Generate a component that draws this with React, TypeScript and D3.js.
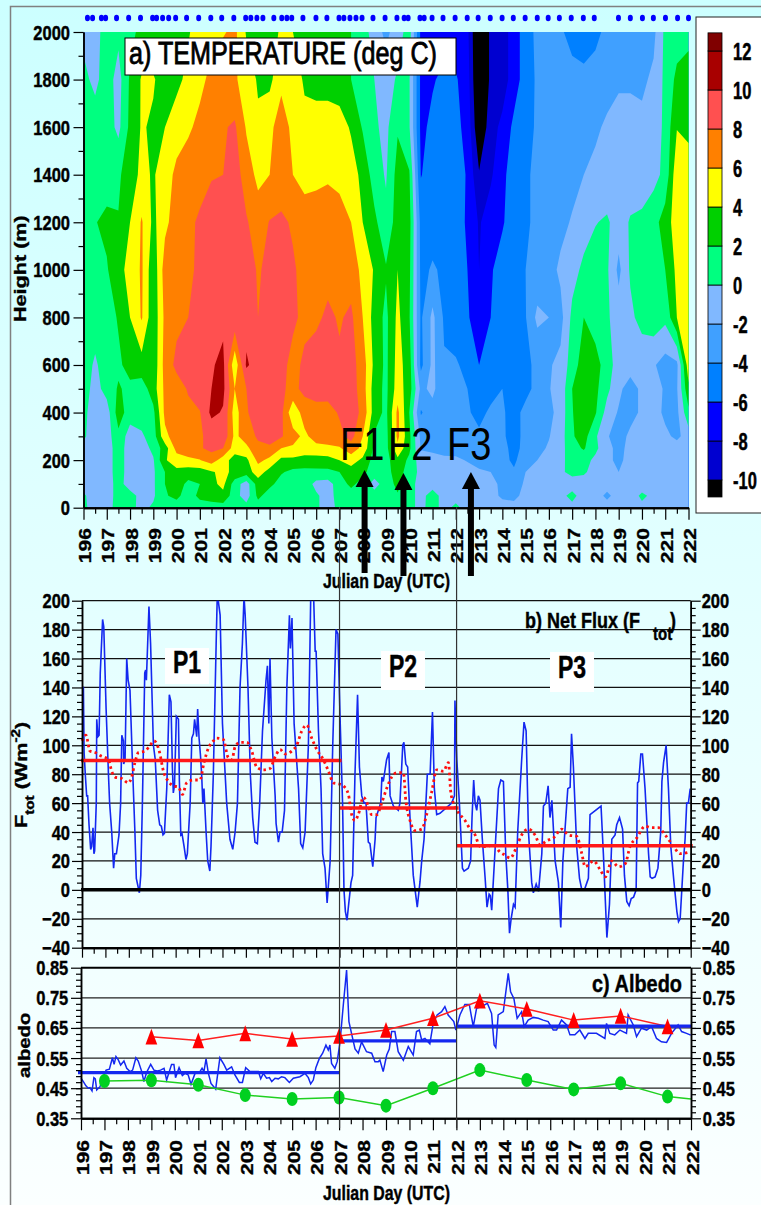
import React, { useEffect, useRef } from "react";
import * as d3 from "d3";

const FONT = "'Liberation Sans', Arial, sans-serif";

// a) temperature, one row per height, one value per half day from 196 to 222
const heights = [0, 50, 100, 150, 200, 250, 300, 400, 500, 600, 800, 1000, 1200, 1400, 1600, 1800, 2000];
const temp0 = [0.5,-1,-0.5,0.5,0.5,-0.5,0.3,1,1,1,1,1,1,0.8,0.8,1,1,0.8,0.8,0.8,0.3,-0.8,0.5,0.8,0.8,0.5,0.8,1,0.5,-0.5,0.8,-0.7,0.5,-0.8,-1,-1,-1.5,-1.5,-1,-1,-1,-0.5,-0.5,-0.5,-0.8,-1,-1,-0.5,-0.5,-0.8,-1,-1,-1];
const temp50 = [0.3,-1,-1,0.8,0.8,-0.7,-0.3,1.8,2.5,1,2.5,3,3.5,0.8,-1,2.5,1,0.8,0.8,0.8,0.3,-0.8,0.8,1,0.8,0.8,1,1.8,0.6,-0.6,0.8,-0.7,-0.8,-1,-1,-1.6,-2.2,-2.4,-1.5,-1,-1,-0.5,0.5,-0.8,-1,-2.5,-1,-1,0.4,-0.5,-1,-1,-1];
const temp100 = [-0.8,-1,-1,0.8,-1,-1,-0.3,2,3,1.5,2,3.5,4.5,1,-1,3,2.5,1.2,1.2,1.2,-0.6,-0.8,1,2.5,1.2,-0.8,1,2.5,0.8,-0.8,-0.8,-1,-1,-1.2,-1.3,-1.6,-2.3,-2.6,-1.8,-1,-1,-1,-0.8,-0.9,-1,-1,-1,-1,-1,-1,-1,-1,-1];
const temp150 = [-0.7,-1,-1,1,-1,-1,-0.3,2,3.5,3,3,3.8,4.5,3.5,3,5,3.2,2.2,1.5,1.4,1.5,1.5,2,3,2.5,1,1.2,3,1,-0.5,-1,-1,-1,-1.5,-1.8,-2,-3,-3.8,-2,-1.5,-1,-0.3,0.5,0.3,-0.8,-1.5,-2,-1,-0.6,-0.6,-0.6,-0.6,-0.6];
const temp200 = [-0.6,-1,-1,1,-1,-1,-0.2,3.8,5,5.5,5.9,7,5,3,3.5,6.5,5.5,3.5,3.5,3.3,3.2,3.3,4,5,3.5,1.2,1.2,3.5,1.5,-1,-1.5,-1.7,-1.7,-2.1,-2.5,-3,-3.5,-4.3,-3,-2,-1.5,-0.5,0.8,0.8,-0.5,-1.5,-2.5,-1.2,-0.8,-0.8,-0.8,-0.8,-0.8];
const temp250 = [-0.5,-1,-1,1,-1,-1,0.5,3,6.7,7.4,7.8,8.5,8,5,5.5,7.5,7.6,6,5.7,5,5.3,5.5,5.8,7,5.5,1.5,1.3,5.5,2.5,-2.2,-2.3,-2.5,-2.6,-2.8,-3,-3,-3.5,-4.5,-3.5,-2.5,-1.8,-0.8,1.3,2.2,0.5,-1.5,-2.5,-1.5,-1,-1,-1,-1,-0.5];
const temp300 = [0.3,-1,-1,1.5,-1,-0.3,1,5.5,7,7.5,7.8,8.5,9.5,5.5,7,8.3,9,8.2,6.8,5.5,7,7.2,7.5,8.7,6,1.8,1.2,6.5,2.5,-2.5,-2.5,-3,-3.2,-3.5,-3.7,-3.5,-3.8,-4.5,-3.6,-2.8,-2.1,-1,1.8,2.8,0.3,-1.8,-3,-1.5,-1.5,-1.2,-1.5,-2.5,-1];
const temp400 = [0.5,-1,-1,3,1,1,1.5,6.5,7,7.5,7.9,10.5,9.8,5,7.9,8.5,9,8.5,4.5,7,7.5,7.3,8.2,9,7.5,3,1.5,6.5,2,-4.2,-2.8,-3.9,-3.5,-3.8,-4.5,-3.7,-3.8,-4.6,-3.5,-3,-2.5,-1.3,1.9,3.1,2.2,-0.8,-2.2,-2.8,-1.6,-1,-2.5,-2.5,1.5];
const temp500 = [1,-0.8,0.8,2.2,1.5,1,3,6.5,7,8.2,9,10,10.5,6,8,9,9,8.3,7.5,8.5,8.6,8.8,8.2,9,7,3,1.5,5,3,-2.5,-1.5,-3.6,-3.8,-4,-4.8,-4.6,-4,-4.2,-4.5,-3.5,-2.1,-1.3,2,3.2,2.5,0.5,-1.5,-3,-1.5,-1,-2.3,-2.2,3.6];
const temp600 = [1,-0.3,1,1.6,2.8,3.2,2.5,6.8,8.5,9,9.5,9.8,10.5,4.5,10.3,9,9,8.5,7.5,8.3,9,8.5,8.3,8.8,7,3.5,1.5,4.8,3,-4.5,-1.5,-3.8,-3.8,-4.5,-6,-5,-4.5,-4,-4.2,-3.8,-2.2,-1.5,1,3,2.8,1,-1,-1,-1.5,-1.8,-2.8,-2.5,5.2];
const temp800 = [1,1,1,2.2,4,6.2,2.5,6.5,7.5,8,8.5,9.3,9.5,9.5,9.2,8,8.4,8.8,8.3,7.6,7.6,8.4,7.8,8.4,6,3.2,1.5,4.5,2.2,-4.3,-1.5,-4.3,-5,-5.8,-7,-6,-5,-4.4,-4.1,-1.5,-2,-2.7,0.5,2,1,0.3,-1,-0.5,0.8,1.2,0.5,4,6];
const temp1000 = [1,1,1.8,3.5,4.5,6.3,2.5,7,7.5,7.8,8.2,9.3,9.5,9.3,9,7.8,8.5,9,8.2,7.5,7.2,7.3,8,7,5.5,3.8,2.2,4,2.5,-4.5,-3.8,-4.3,-5,-6,-8,-6.2,-5.2,-4.5,-4,-3.5,-2.8,-1.6,-0.8,0.5,1,0.3,-2.5,0.3,1,1.5,2,4.5,5];
const temp1200 = [1,1.9,2.5,2.1,4,6.2,3.5,5.5,7,7.7,8.2,9.3,9.5,9.3,8.2,7,8.1,8.3,7.8,7,6.8,6.8,6.6,6,4,2.5,0.5,3,2.8,-4.7,-4.8,-4.6,-5,-6.3,-8.2,-7,-6.2,-5,-4.2,-3.7,-3.2,-2.6,-1.8,-1,-0.1,0.3,-1,0.2,0.4,1.2,3,5,5.2];
const temp1400 = [0.8,1,1,1.7,3,4.5,3.8,5,6.5,7,7.5,7.8,8,9,7,5.5,6,7,6,5.3,5.6,5.8,5.6,4.8,3.5,1,-0.2,2.8,2.2,-6.1,-5,-4.7,-5,-6.2,-9.8,-8.3,-6.5,-5,-4.2,-3.7,-3.3,-3.1,-2.7,-2,-1.7,-1.5,-1.3,-1.2,-1,-0.6,0.5,5.5,5];
const temp1600 = [0.8,1,1,-0.5,2.5,4.2,3.7,4,5,5.7,6.5,7.3,7.8,8.3,5.8,4.3,5.5,7,5.5,5,5,5,4.8,3.8,1.8,0.3,-0.5,1.8,0.2,-6.5,-5.5,-5.2,-5.5,-6.6,-12,-8.8,-7.5,-5.5,-4.5,-3.8,-3.3,-3.2,-3.1,-2.8,-2.2,-1.8,-1.5,-1.5,-1.5,-1.2,0.5,3.9,3.5];
const temp1800 = [0.5,-0.5,1,-0.8,2.3,4.2,4.2,3,3.5,4.5,5.5,6.5,7.5,6.3,5,3.8,3.5,5.5,6,3.5,3.2,3.2,3,2,0.7,0,-1,0.3,0.2,-6.5,-6.2,-5.5,-5.8,-7,-13,-9.5,-9,-7,-5,-3.7,-3.5,-3.5,-3.5,-3.5,-3.2,-2.5,-2.2,-2.2,-2.4,-1.6,0.5,2.5,3.5];
const temp2000 = [-0.5,-0.8,1,0.5,1.5,2.5,2.5,2.2,3,3.8,5,5.5,5.8,6.5,3.8,2.2,2.5,4.5,4,3,3,3,3,2,1,-1,-2.5,-1,1,-6.5,-7,-7,-7,-7.5,-13,-9.5,-9,-7,-5,-3.5,-3.5,-3.8,-4.5,-5,-4.5,-3.5,-3,-3,-3,-2.5,0.5,1,1];
const tempRows = [temp0, temp50, temp100, temp150, temp200, temp250, temp300, temp400, temp500, temp600, temp800, temp1000, temp1200, temp1400, temp1600, temp1800, temp2000];

const tempLevels = [-10, -8, -6, -4, -2, 0, 2, 4, 6, 8, 10, 12];
const tempColors = ["#000000", "#0000d0", "#0000ff", "#0080ff", "#40a0ff", "#80b8ff", "#00ff80", "#00d000", "#ffff00", "#ff8000", "#ff5050", "#a80000", "#800000"];

// balloon launch times along the top of a)
const launchDays = [196.17,196.39,196.77,196.95,197.42,197.94,198.45,198.97,199.14,199.40,199.66,199.96,200.43,200.95,201.47,201.94,202.46,202.97,203.19,203.45,203.71,204.18,204.52,204.74,204.95,205.43,205.99,206.46,206.98,207.19,207.45,207.71,207.97,208.44,208.96,209.47,209.78,209.95,210.46,210.64,210.98,211.45,211.97,212.49,212.96,213.48,213.99,214.47,214.98,215.5,215.97,216.45,216.96,217.48,217.95,218.99,219.5,220.02,220.49,221.01,221.53,222];

// b) net flux, days counted from 196
const fluxDays = [0,.06,.09,.14,.2,.24,.3,.37,.41,.47,.51,.54,.61,.63,.68,.73,.78,.88,.93,1.03,1.13,1.18,1.27,1.35,1.4,1.47,1.58,1.65,1.7,1.77,1.78,1.84,1.91,1.97,2.05,2.17,2.26,2.32,2.45,2.51,2.58,2.68,2.72,2.75,2.86,2.93,3.05,3.13,3.23,3.32,3.39,3.46,3.52,3.62,3.73,3.8,3.86,3.9,3.95,4.03,4.12,4.16,4.22,4.27,4.36,4.44,4.5,4.62,4.69,4.76,4.81,4.9,4.94,5,5.06,5.11,5.16,5.21,5.3,5.37,5.46,5.51,5.61,5.73,5.78,5.9,6,6.18,6.32,6.44,6.54,6.64,6.75,6.85,6.92,6.97,7.09,7.19,7.29,7.39,7.49,7.59,7.71,7.86,7.92,7.98,8.03,8.11,8.25,8.29,8.39,8.46,8.55,8.65,8.75,8.86,8.9,8.97,9.06,9.25,9.34,9.43,9.53,9.67,9.77,9.89,9.96,10,10.1,10.21,10.28,10.38,10.47,10.6,10.71,10.85,10.93,11.03,11.13,11.19,11.25,11.32,11.39,11.49,11.56,11.66,11.77,11.85,11.95,12.05,12.13,12.23,12.3,12.42,12.52,12.56,12.66,12.76,12.81,12.87,13.01,13.11,13.16,13.3,13.51,13.58,13.7,13.75,13.83,13.91,14.01,14.15,14.32,14.44,14.51,14.61,14.72,14.75,14.87,14.97,15.05,15.15,15.29,15.58,15.79,15.91,15.93,16.01,16.12,16.25,16.32,16.5,16.6,16.66,16.73,16.79,16.86,16.93,17,17.1,17.22,17.3,17.39,17.44,17.5,17.6,17.79,17.89,18,18.1,18.19,18.26,18.33,18.43,18.5,18.61,18.78,18.88,18.97,19.07,19.21,19.28,19.4,19.5,19.64,19.71,19.81,19.91,19.99,20.07,20.21,20.35,20.45,20.54,20.75,20.85,20.91,20.99,21.13,21.25,21.35,21.46,21.63,21.7,22.17,22.27,22.42,22.53,22.63,22.77,22.84,22.96,23.09,23.17,23.27,23.37,23.46,23.56,23.67,23.73,23.78,23.87,23.94,24.05,24.2,24.27,24.35,24.48,24.6,24.72,24.77,24.84,24.95,25.05,25.15,25.27,25.41,25.48,25.55,25.69,25.76,25.83,25.9,25.98];
const fluxValues = [140,140,95,80,65,65,45,28,30,43,25,27,60,118,106,107,150,187,182,125,80,60,40,15,25,25,38,60,107,103,87,90,160,145,138,80,40,8,-2,10,60,150,152,145,196,170,100,90,55,45,44,38,39,70,135,130,85,67,72,120,118,75,38,39,30,21,25,60,105,108,118,106,125,105,93,80,60,70,40,20,13,30,80,170,205,190,115,60,35,28,40,60,140,170,203,190,140,80,50,33,32,60,110,145,155,115,160,105,65,46,33,40,40,55,140,190,167,188,115,70,32,29,40,100,203,205,165,165,110,70,25,15,-9,20,100,180,177,115,60,0,-15,-21,-10,5,10,80,135,85,65,60,60,33,32,16,35,50,55,60,78,75,90,95,65,58,55,60,100,102,87,85,50,10,-12,6,20,35,70,80,80,123,70,52,53,57,60,65,131,90,60,15,13,15,20,50,76,60,55,65,62,35,8,-12,-3,-4,-14,15,70,76,75,25,0,-30,-20,-10,-12,40,90,116,110,40,5,-2,4,-1,25,58,60,72,50,62,20,5,-26,20,70,71,108,85,30,8,0,0,8,52,58,25,-33,-10,35,38,45,50,42,10,-8,-11,-6,-5,0,74,75,94,94,70,25,9,8,9,15,40,75,88,100,70,30,8,-15,-22,-20,20,35,60,60,70];
const smoothDays = [0,.17,.34,.56,.77,1.13,1.27,1.41,1.7,1.98,2.12,2.26,2.41,2.69,2.91,3.08,3.3,3.48,3.69,3.9,4.12,4.29,4.47,4.76,5.04,5.21,5.4,5.61,5.75,6.04,6.23,6.4,6.54,6.75,7.04,7.25,7.46,7.75,8.03,8.25,8.46,8.68,8.96,9.17,9.39,9.6,9.81,10.03,10.31,10.53,10.74,11.03,11.16,11.38,11.52,11.66,11.8,12.02,12.23,12.37,12.59,12.8,13.01,13.23,13.44,13.73,13.83,14.01,14.23,14.51,14.72,14.94,15.15,15.44,15.65,15.75,15.86,16.01,16.36,16.58,16.79,17,17.29,17.57,17.86,18.07,18.29,18.57,18.78,19.07,19.35,19.57,19.85,20.14,20.49,20.78,21.13,21.35,21.49,21.85,22.13,22.35,22.63,22.91,23.2,23.41,23.7,24.05,24.34,24.62,24.91,25.27,25.55,25.91];
const smoothValues = [103,107,96,95,93,90,82,78,77,74,78,88,95,96,100,103,96,82,75,72,71,66,74,76,76,88,98,103,105,104,92,90,99,102,102,96,85,83,84,92,97,94,96,100,110,114,105,97,90,82,74,73,72,66,52,48,52,64,58,52,52,60,70,78,81,81,62,48,41,42,52,68,83,82,88,68,60,55,48,42,38,30,30,31,26,24,22,30,38,42,38,31,34,36,42,38,37,25,16,20,14,9,20,16,18,30,36,44,43,43,38,30,25,26];
const periodBreaks = [196, 207, 212, 222];
const fluxMeans = [89.5, 56.7, 30.5];
const fluxTickValues = d3.range(-40, 201, 20);

// c) albedo
const albedoDays = [0,.10,.21,.31,.38,.47,.55,.61,.67,.81,.92,1.07,1.21,1.34,1.41,1.49,1.59,1.69,1.83,1.95,2.09,2.2,2.34,2.44,2.59,2.68,2.8,2.97,3.11,3.25,3.39,3.54,3.65,3.86,3.96,4.03,4.18,4.32,4.43,4.57,4.69,4.86,5.07,5.16,5.24,5.33,5.43,5.54,5.74,5.92,6.09,6.21,6.42,6.56,6.75,6.88,7.02,7.2,7.56,7.66,7.77,7.91,8.03,8.13,8.27,8.41,8.55,8.69,8.88,9.05,9.33,9.55,9.69,9.79,9.9,10.01,10.16,10.3,10.44,10.54,10.61,10.68,10.82,10.92,11.04,11.18,11.32,11.42,11.53,11.68,11.82,11.96,12.17,12.39,12.53,12.67,12.74,12.88,13.03,13.14,13.24,13.38,13.52,13.74,13.95,14.16,14.3,14.42,14.52,14.66,14.87,15.01,15.18,15.37,15.51,15.65,15.89,15.98,16.15,16.36,16.55,16.72,16.86,17.07,17.32,17.5,17.61,17.68,17.78,18,18.21,18.31,18.45,18.59,18.78,18.89,19.06,19.28,19.49,19.7,19.91,20.13,20.27,20.48,20.7,20.84,21.05,21.26,21.48,21.62,21.97,22.33,22.4,22.54,22.75,22.97,23.25,23.32,23.54,23.68,23.89,24.11,24.32,24.53,24.74,24.96,25.17,25.45,25.6,25.81,25.99];
const albedoValues = [.483,.472,.458,.450,.452,.441,.485,.481,.444,.455,.483,.510,.513,.551,.529,.555,.544,.527,.540,.516,.505,.510,.551,.540,.505,.472,.503,.529,.510,.507,.510,.516,.477,.529,.529,.485,.518,.492,.499,.494,.463,.499,.505,.516,.505,.547,.499,.466,.447,.551,.529,.510,.521,.494,.469,.469,.518,.505,.505,.481,.499,.483,.485,.472,.483,.481,.488,.485,.469,.483,.488,.499,.485,.464,.477,.518,.549,.566,.593,.577,.593,.532,.516,.538,.604,.726,.842,.671,.632,.580,.566,.604,.571,.566,.538,.538,.543,.505,.560,.580,.638,.638,.571,.543,.588,.560,.638,.643,.610,.615,.597,.665,.693,.704,.721,.693,.671,.643,.693,.728,.728,.654,.715,.721,.732,.698,.593,.585,.693,.704,.831,.770,.748,.682,.704,.654,.676,.685,.682,.676,.671,.643,.643,.676,.660,.627,.627,.643,.615,.632,.632,.615,.665,.632,.627,.643,.632,.693,.660,.621,.649,.643,.654,.615,.604,.602,.632,.660,.638,.632,.626];
const albedoMeans = [0.5015, 0.607, 0.656];
const triangleDays = [199, 201, 203, 205, 207, 209, 211, 213, 215, 217, 219, 221, 222];
const triangleValues = [.621, .608, .632, .613, .623, .643, .682, .740, .713, .676, .690, .655, .655];
const circleDays = [197, 199, 201, 203, 205, 207, 209, 211, 213, 215, 217, 219, 221, 222];
const circleValues = [.474, .476, .461, .427, .414, .419, .392, .450, .510, .477, .446, .466, .422, .414];
const albedoTickValues = [0.35, 0.45, 0.55, 0.65, 0.75, 0.85];

const dayTicks = d3.range(196, 223);
const halfDayTicks = d3.range(196.5, 222, 1);

const stretch = 1.2;
const stretchRot = 1.27;
const boldStroke = 0.35;

function App() {
  const ref = useRef<SVGSVGElement>(null);

  useEffect(() => {
    const svg = d3.select(ref.current);
    svg.selectAll("*").remove();

    const defs = svg.append("defs");
    const grad = defs.append("linearGradient").attr("id", "bg").attr("x1", 0).attr("y1", 0).attr("x2", 0).attr("y2", 1);
    grad.append("stop").attr("offset", "0%").attr("stop-color", "#ccffff");
    grad.append("stop").attr("offset", "100%").attr("stop-color", "#fbffff");
    svg.append("rect").attr("width", 761).attr("height", 1205).attr("fill", "url(#bg)");
    svg.append("path").attr("d", "M10.5,1205V6.5H761").attr("fill", "none").attr("stroke", "#808080").attr("stroke-width", 1.5);

    // text is stretched vertically in the source picture
    const label = (parent: any, str: string, x: number, y: number, o: any = {}) => {
      const sy = o.sy ?? stretch;
      const t = parent
        .append("text")
        .attr("transform", o.rot ? `translate(${x},${y}) scale(1,${stretchRot}) rotate(-90)` : `translate(${x},${y}) scale(1,${sy})`)
        .attr("font-family", FONT)
        .attr("font-size", o.size ?? 16.5)
        .attr("font-weight", o.weight ?? "bold")
        .attr("text-anchor", o.anchor ?? "start")
        .attr("fill", "black")
        .attr("stroke", o.weight === "normal" ? "none" : "black")
        .attr("stroke-width", boldStroke)
        .text(str);
      if (o.len) t.attr("textLength", o.len).attr("lengthAdjust", "spacingAndGlyphs");
      return t;
    };

    const styleAxis = (g: any, width = 1.5) => {
      g.attr("font-family", FONT);
      g.selectAll(".domain").attr("stroke", "black").attr("stroke-width", width);
      g.selectAll("line").attr("stroke", "black").attr("stroke-width", 1.2);
    };

    const leftAxis = (y: any, x0: number, major: number[], minor: number[], fmt: any, dx: number, side = -1) => {
      const make = side < 0 ? d3.axisLeft : d3.axisRight;
      const g = svg.append("g").attr("transform", `translate(${x0},0)`);
      g.call(make(y).tickValues(minor).tickSize(5).tickSizeOuter(0).tickFormat(() => ""));
      styleAxis(g);
      const m = svg.append("g").attr("transform", `translate(${x0},0)`);
      m.call(make(y).tickValues(major).tickSize(10).tickSizeOuter(0).tickFormat(fmt));
      styleAxis(m);
      m.selectAll("text")
        .attr("x", null)
        .attr("dy", null)
        .attr("text-anchor", side < 0 ? "end" : "start")
        .attr("transform", `translate(${dx},7) scale(1,${stretch})`)
        .attr("font-size", 16.5)
        .attr("font-weight", "bold")
        .attr("stroke", "black")
        .attr("stroke-width", boldStroke)
        .attr("fill", "black");
    };

    const bottomAxis = (x: any, y0: number, big: number, small: number, textTop: number | null) => {
      const g = svg.append("g").attr("transform", `translate(0,${y0})`);
      g.call(d3.axisBottom(x).tickValues(halfDayTicks).tickSize(small).tickSizeOuter(0).tickFormat(() => ""));
      styleAxis(g, 2);
      const m = svg.append("g").attr("transform", `translate(0,${y0})`);
      m.call(d3.axisBottom(x).tickValues(dayTicks).tickSize(big).tickSizeOuter(0).tickFormat(textTop === null ? () => "" : (d3.format("d") as any)));
      styleAxis(m, 2);
      if (textTop !== null) {
        m.selectAll("text")
          .attr("x", null)
          .attr("y", null)
          .attr("dy", null)
          .attr("text-anchor", "end")
          .attr("transform", `translate(7,${textTop}) scale(1,${stretchRot}) rotate(-90)`)
          .attr("font-size", 16.5)
          .attr("font-weight", "bold")
          .attr("stroke", "black")
          .attr("stroke-width", boldStroke)
          .attr("fill", "black");
      }
    };

    // ---- a) temperature
    const xA = d3.scaleLinear().domain([196, 222]).range([83.5, 688.5]);
    const yA = d3.scaleLinear().domain([0, 2000]).range([507.7, 32]);
    const nx = tempRows[0].length;
    const ny = tempRows.length;
    const colDay = d3.scaleLinear().domain([0, nx - 1]).range([196, 222]);
    const rowHeight = d3.scaleLinear().domain(d3.range(ny)).range(heights).clamp(true);
    const project = d3.geoTransform({
      point(px: number, py: number) {
        const i = Math.max(0, Math.min(nx - 1, px - 0.5));
        (this as any).stream.point(xA(colDay(i)), yA(rowHeight(py - 0.5)));
      },
    });
    const path = d3.geoPath(project);
    const bands = d3.contours().size([nx, ny]).thresholds([-1000, ...tempLevels])(tempRows.flat());
    svg
      .append("g")
      .selectAll("path")
      .data(bands)
      .join("path")
      .attr("d", path as any)
      .attr("fill", (_, i) => tempColors[i]);

    leftAxis(yA, 83.5, d3.range(0, 2001, 200), d3.range(100, 2000, 200), d3.format("d"), -13.5);
    bottomAxis(xA, 507.7, 12, 6, 20.5);
    svg
      .append("g")
      .selectAll("ellipse")
      .data(launchDays)
      .join("ellipse")
      .attr("cx", (d) => xA(d))
      .attr("cy", 18)
      .attr("rx", 2.5)
      .attr("ry", 3.3)
      .attr("fill", "#0000ff");

    svg.append("rect").attr("x", 125).attr("y", 38).attr("width", 331).attr("height", 37).attr("fill", "white").attr("stroke", "black").attr("stroke-width", 1);
    label(svg, "a) TEMPERATURE (deg C)", 129, 64, { size: 26, weight: "normal", len: 308 }).attr("stroke", "black").attr("stroke-width", 0.7);
    label(svg, "Height (m)", 26, 322, { size: 17, rot: true });
    label(svg, "Julian Day (UTC)", 323, 588, { size: 17, len: 127 });

    // colour bar
    const yBar = d3.scaleLinear().domain([-10, 12]).range([480, 51]);
    svg.append("rect").attr("x", 696).attr("y", 17).attr("width", 70).attr("height", 496).attr("fill", "white").attr("stroke", "#222").attr("stroke-width", 1);
    const barEdges = [-10.87, ...tempLevels, 12.93];
    svg
      .append("g")
      .selectAll("rect")
      .data(tempColors)
      .join("rect")
      .attr("x", 708)
      .attr("width", 14)
      .attr("y", (_, i) => yBar(barEdges[i + 1]))
      .attr("height", (_, i) => yBar(barEdges[i]) - yBar(barEdges[i + 1]))
      .attr("fill", (d) => d)
      .attr("stroke", "black")
      .attr("stroke-width", 0.8);
    tempLevels.forEach((v) => {
      label(svg, String(v), 733, yBar(v) + 9, { sy: 1.4 });
    });

    // event arrows and labels
    const arrows = [
      { day: 208.08, name: "F1", labelX: 340, tip: 470, end: 573 },
      { day: 209.75, name: "F2", labelX: 388, tip: 473, end: 576 },
      { day: 212.65, name: "F3", labelX: 447, tip: 472, end: 576 },
    ];
    arrows.forEach((a) => {
      const cx = xA(a.day);
      svg.append("line").attr("x1", cx).attr("x2", cx).attr("y1", a.tip + 10).attr("y2", a.end).attr("stroke", "black").attr("stroke-width", 6);
      svg.append("path").attr("d", d3.line()([[cx, a.tip], [cx + 9, a.tip + 17], [cx - 9, a.tip + 17]]) + "Z").attr("fill", "black");
      label(svg, a.name, a.labelX, 460, { size: 38, weight: "normal" });
    });

    // ---- b) net flux
    const xB = d3.scaleLinear().domain([196, 222]).range([82, 690.7]);
    const yB = d3.scaleLinear().domain([-40, 200]).range([947.7, 600.7]);
    defs.append("clipPath").attr("id", "clipB").append("rect").attr("x", 82).attr("y", 600.7).attr("width", 608.7).attr("height", 347);

    svg
      .append("g")
      .selectAll("line")
      .data(fluxTickValues)
      .join("line")
      .attr("x1", 82)
      .attr("x2", 690.7)
      .attr("y1", (d) => yB(d))
      .attr("y2", (d) => yB(d))
      .attr("stroke", "#111")
      .attr("stroke-width", 1.2);

    periodBreaks.slice(0, 3).forEach((start, i) => {
      const box = [
        { x: 165, y: 648, w: 44, h: 36, name: "P1", bx: 187, by: 673 },
        { x: 381, y: 651, w: 44, h: 39, name: "P2", bx: 403, by: 677 },
        { x: 550, y: 652, w: 44, h: 40, name: "P3", bx: 572, by: 678 },
      ][i];
      svg.append("rect").attr("x", box.x).attr("y", box.y).attr("width", box.w).attr("height", box.h).attr("fill", "white");
      label(svg, box.name, box.bx, box.by, { size: 23, anchor: "middle", sy: 1.35 });
    });

    const lineB = d3.line<number>().x((_, i) => xB(196 + fluxDays[i])).y((d) => yB(d));
    svg.append("path").attr("clip-path", "url(#clipB)").attr("d", lineB(fluxValues)).attr("fill", "none").attr("stroke", "#1428f0").attr("stroke-width", 1.6);
    const lineS = d3.line<number>().x((_, i) => xB(196 + smoothDays[i])).y((d) => yB(d)).curve(d3.curveMonotoneX);
    svg.append("path").attr("d", lineS(smoothValues)).attr("fill", "none").attr("stroke", "#ff1010").attr("stroke-width", 2.8).attr("stroke-dasharray", "2.5 3.2");

    svg.append("line").attr("x1", 81).attr("x2", 691).attr("y1", yB(0)).attr("y2", yB(0)).attr("stroke", "black").attr("stroke-width", 3.5);
    fluxMeans.forEach((v, i) => {
      svg.append("line").attr("x1", xB(periodBreaks[i]) - (i === 0 ? 1 : 0)).attr("x2", xB(periodBreaks[i + 1]) + 2).attr("y1", yB(v)).attr("y2", yB(v)).attr("stroke", "#ff1818").attr("stroke-width", 3.5);
    });

    const fluxMinor = d3.range(-40, 200, 5).filter((d) => d % 20 !== 0);
    leftAxis(yB, 82, fluxTickValues, fluxMinor, d3.format("d"), -12);
    leftAxis(yB, 690.7, fluxTickValues, fluxMinor, d3.format("d"), 11, 1);
    bottomAxis(xB, 947.7, 10, 6, null);

    label(svg, "b) Net Flux (F", 525, 628, { size: 18 });
    label(svg, "tot", 653, 640, { size: 15 });
    label(svg, ")", 670, 628, { size: 18 });

    const fluxTitle = label(svg, "", 27, 828, { size: 17, rot: true });
    fluxTitle.append("tspan").text("F");
    fluxTitle.append("tspan").attr("dy", 7).attr("font-size", 12).text("tot");
    fluxTitle.append("tspan").attr("dy", -7).text(" (Wm");
    fluxTitle.append("tspan").attr("dy", -7).attr("font-size", 12).text("-2");
    fluxTitle.append("tspan").attr("dy", 7).text(")");

    // ---- c) albedo
    const xC = d3.scaleLinear().domain([196, 222]).range([81, 691]);
    const yC = d3.scaleLinear().domain([0.35, 0.85]).range([1118.3, 967.7]);

    svg
      .append("g")
      .selectAll("line")
      .data(albedoTickValues.slice(1, 5))
      .join("line")
      .attr("x1", 81)
      .attr("x2", 691)
      .attr("y1", (d) => yC(d))
      .attr("y2", (d) => yC(d))
      .attr("stroke", "#222")
      .attr("stroke-width", 1.2);
    svg.append("line").attr("x1", 81).attr("x2", 691).attr("y1", yC(0.85)).attr("y2", yC(0.85)).attr("stroke", "black").attr("stroke-width", 2);

    const lineA = d3.line<number>().x((_, i) => xC(196 + albedoDays[i])).y((d) => yC(d));
    svg.append("path").attr("d", lineA(albedoValues)).attr("fill", "none").attr("stroke", "#1428f0").attr("stroke-width", 1.5);

    const lineT = d3.line<number>().x((_, i) => xC(triangleDays[i])).y((d) => yC(d));
    svg.append("path").attr("d", lineT(triangleValues)).attr("fill", "none").attr("stroke", "#ff2020").attr("stroke-width", 1.5);
    const lineG = d3.line<number>().x((_, i) => xC(circleDays[i])).y((d) => yC(d));
    svg.append("path").attr("d", lineG(circleValues)).attr("fill", "none").attr("stroke", "#20d020").attr("stroke-width", 1.5);

    albedoMeans.forEach((v, i) => {
      svg.append("line").attr("x1", xC(periodBreaks[i]) - (i === 0 ? 3 : 0)).attr("x2", xC(periodBreaks[i + 1]) + (i === 2 ? 1 : 0)).attr("y1", yC(v)).attr("y2", yC(v)).attr("stroke", "#1428f0").attr("stroke-width", 3.2);
    });

    const tri = d3.symbol().type(d3.symbolTriangle).size(60);
    svg
      .append("g")
      .selectAll("path")
      .data(triangleDays.slice(0, 12))
      .join("path")
      .attr("d", tri() as string)
      .attr("transform", (d, i) => `translate(${xC(d)},${yC(triangleValues[i]) + 2.5}) scale(1,1.55)`)
      .attr("fill", "#ff0000");
    svg
      .append("g")
      .selectAll("ellipse")
      .data(circleDays.slice(0, 13))
      .join("ellipse")
      .attr("cx", (d) => xC(d))
      .attr("cy", (_, i) => yC(circleValues[i]))
      .attr("rx", 5.5)
      .attr("ry", 7)
      .attr("fill", "#00d020");

    const albedoMinor = d3.range(0.35, 0.85, 0.02).filter((d) => Math.abs(((d - 0.35) * 10) % 1) > 0.01);
    leftAxis(yC, 81, albedoTickValues, albedoMinor, d3.format(".2f"), -12.7);
    leftAxis(yC, 691, albedoTickValues, albedoMinor, d3.format(".2f"), 11.7, 1);
    bottomAxis(xC, 1118.3, 12, 6, 21.7);

    label(svg, "c) Albedo", 592, 992, { size: 20, len: 90 });
    label(svg, "albedo", 30, 1078, { size: 16, rot: true });
    label(svg, "Julian Day (UTC)", 323, 1200, { size: 17, len: 127 });

    // period boundaries run through b) and c)
    [207, 212].forEach((d) => {
      svg.append("line").attr("x1", xB(d)).attr("x2", xB(d)).attr("y1", 507).attr("y2", 1128).attr("stroke", "#333").attr("stroke-width", 1.2);
    });
  }, []);

  return <svg ref={ref} width={761} height={1205} style={{ position: "absolute", left: 0, top: 0, display: "block" }} />;
}

export default App;
